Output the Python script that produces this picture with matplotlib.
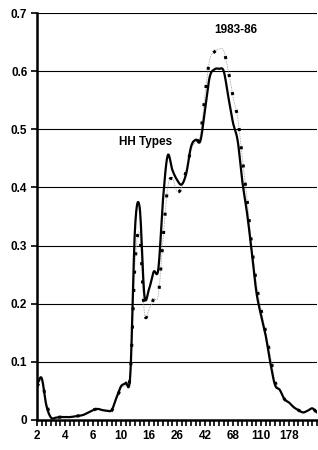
import numpy as np
from matplotlib import pyplot as plt

# category labels, one every 6 bins
tick_labels = ["2", "4", "6", "10", "16", "26", "42", "68", "110", "178"]

# HH Types (solid line), one value per bin
hh_types = [0.062, 0.072, 0.025, 0.004, 0.004, 0.005, 0.005, 0.005, 0.006, 0.007,
            0.009, 0.013, 0.017, 0.019, 0.017, 0.016, 0.017, 0.038, 0.058, 0.064,
            0.080, 0.330, 0.365, 0.215, 0.225, 0.255, 0.260, 0.380, 0.455, 0.430,
            0.413, 0.405, 0.425, 0.470, 0.482, 0.480, 0.534, 0.590, 0.603, 0.604,
            0.600, 0.555, 0.511, 0.480, 0.410, 0.356, 0.290, 0.220, 0.180, 0.145,
            0.098, 0.060, 0.052, 0.036, 0.030, 0.022, 0.017, 0.013, 0.016, 0.020,
            0.013]

# 1983-86 (dotted line)
y1983_86 = [0.058, 0.068, 0.030, 0.004, 0.004, 0.005, 0.005, 0.005, 0.006, 0.007,
            0.009, 0.013, 0.017, 0.019, 0.017, 0.015, 0.016, 0.035, 0.055, 0.060,
            0.080, 0.270, 0.320, 0.185, 0.190, 0.208, 0.215, 0.310, 0.400, 0.415,
            0.393, 0.400, 0.430, 0.465, 0.478, 0.490, 0.560, 0.620, 0.633, 0.638,
            0.635, 0.600, 0.555, 0.520, 0.450, 0.380, 0.300, 0.235, 0.190, 0.152,
            0.110, 0.066, 0.052, 0.036, 0.030, 0.022, 0.017, 0.013, 0.016, 0.020,
            0.013]


def smooth(xs, ys, n=12):
    # catmull-rom through the points, like the spreadsheet "smoothed line"
    xs = np.asarray(xs, float)
    ys = np.asarray(ys, float)
    px = np.concatenate([[2 * xs[0] - xs[1]], xs, [2 * xs[-1] - xs[-2]]])
    py = np.concatenate([[ys[0]], ys, [ys[-1]]])
    ox, oy = [], []
    t = np.linspace(0, 1, n, endpoint=False)
    for i in range(1, len(px) - 2):
        for arr, out in ((px, ox), (py, oy)):
            p0, p1, p2, p3 = arr[i - 1], arr[i], arr[i + 1], arr[i + 2]
            out.extend(0.5 * ((2 * p1) + (-p0 + p2) * t
                              + (2 * p0 - 5 * p1 + 4 * p2 - p3) * t ** 2
                              + (-p0 + 3 * p1 - 3 * p2 + p3) * t ** 3))
    ox.append(xs[-1])
    oy.append(ys[-1])
    return np.array(ox), np.array(oy)


x = np.arange(len(hh_types))

plt.rcParams['font.family'] = ['Liberation Sans', 'DejaVu Sans']
plt.rcParams['font.weight'] = 'bold'
plt.rcParams['font.size'] = 8.5

fig = plt.figure(figsize=(3.18, 4.5), dpi=100)
ax = fig.add_axes([0.1164, 0.0667, 0.8806, 0.9044])

for yv in np.arange(0.1, 0.71, 0.1):
    ax.axhline(yv, color="black", lw=0.8, zorder=1)

sx, sy = smooth(x, y1983_86)
ax.plot(sx, sy, color="#999999", lw=0.6, ls=(0, (1, 1)), zorder=2)
ax.plot(sx, sy, color="black", lw=2.2, ls=(0, (1, 5)),
        dash_capstyle="butt", zorder=3)
hx, hy = smooth(x, hh_types)
ax.plot(hx, hy, color="black", lw=1.6, zorder=4)

ax.text(23.3, 0.478, "HH Types", ha="center", va="center", fontweight="bold")
ax.text(42.6, 0.671, "1983-86", ha="center", va="center", fontweight="bold")

ax.set_xlim(0, len(hh_types) - 1)
ax.set_ylim(0, 0.7)
ax.set_xticks(x, minor=True)
ax.set_xticks(x[::6][:len(tick_labels)])
ax.set_xticklabels(tick_labels)
ax.set_yticks(np.arange(0, 0.71, 0.1))
ax.set_yticklabels(["0", "0.1", "0.2", "0.3", "0.4", "0.5", "0.6", "0.7"])
ax.tick_params(axis="both", direction="out", width=1.2, length=4, pad=3)
ax.tick_params(axis="x", which="minor", direction="out", width=1.2, length=4)

for s in ["top", "right"]:
    ax.spines[s].set_visible(False)
for s in ["left", "bottom"]:
    ax.spines[s].set_linewidth(1.8)

fig.savefig("out.png", dpi=100)
